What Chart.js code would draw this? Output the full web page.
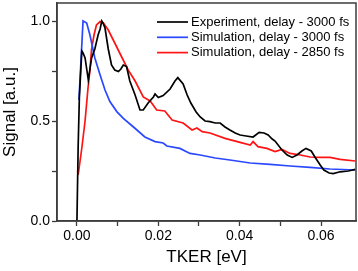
<!DOCTYPE html>
<html>
<head>
<meta charset="utf-8">
<script src="https://cdn.jsdelivr.net/npm/chart.js@4"></script>
<style>
  html, body { margin: 0; padding: 0; background: #fff; }
  #wrap { width: 358px; height: 271px; }
</style>
</head>
<body>
<div id="wrap"><canvas id="myChart"></canvas></div>
<script>
// Dati (TKER in eV, segnale normalizzato)
const expX = [0.0000, 0.0003, 0.0006, 0.0012, 0.0015, 0.0020, 0.0024, 0.0028, 0.0032, 0.0036, 0.0044, 0.0052, 0.0057, 0.0061, 0.0064, 0.0069, 0.0077, 0.0085, 0.0093, 0.0102, 0.0108, 0.0114, 0.0122, 0.0130, 0.0143, 0.0155, 0.0163, 0.0175, 0.0188, 0.0192, 0.0200, 0.0212, 0.0229, 0.0241, 0.0248, 0.0261, 0.0271, 0.0280, 0.0293, 0.0303, 0.0315, 0.0327, 0.0340, 0.0352, 0.0364, 0.0376, 0.0389, 0.0401, 0.0416, 0.0433, 0.0448, 0.0460, 0.0470, 0.0480, 0.0487, 0.0504, 0.0517, 0.0529, 0.0541, 0.0553, 0.0563, 0.0576, 0.0585, 0.0598, 0.0607, 0.0620, 0.0630, 0.0647, 0.0667, 0.0684];
const expY = [0.00, 0.37, 0.62, 0.85, 0.84, 0.815, 0.76, 0.705, 0.76, 0.815, 0.86, 0.93, 0.96, 1.00, 0.99, 0.965, 0.86, 0.78, 0.755, 0.747, 0.76, 0.78, 0.772, 0.70, 0.63, 0.555, 0.555, 0.59, 0.62, 0.635, 0.617, 0.627, 0.66, 0.70, 0.717, 0.685, 0.63, 0.59, 0.545, 0.52, 0.50, 0.497, 0.49, 0.49, 0.47, 0.455, 0.44, 0.43, 0.425, 0.42, 0.443, 0.44, 0.43, 0.41, 0.40, 0.355, 0.33, 0.318, 0.33, 0.35, 0.363, 0.35, 0.32, 0.28, 0.255, 0.24, 0.237, 0.246, 0.25, 0.258];

const sim3000X = [0.0005, 0.0015, 0.0024, 0.0032, 0.0044, 0.0057, 0.0069, 0.0081, 0.0098, 0.0114, 0.0139, 0.0167, 0.0192, 0.0212, 0.0221, 0.0253, 0.0278, 0.0303, 0.0340, 0.0376, 0.0426, 0.0475, 0.0524, 0.0573, 0.0622, 0.0684];
const sim3000Y = [0.605, 1.00, 0.99, 0.93, 0.815, 0.73, 0.655, 0.597, 0.547, 0.513, 0.47, 0.42, 0.397, 0.39, 0.375, 0.363, 0.338, 0.33, 0.315, 0.305, 0.29, 0.283, 0.275, 0.268, 0.26, 0.255];

const sim2850X = [0.0003, 0.0012, 0.0020, 0.0027, 0.0032, 0.0036, 0.0042, 0.0048, 0.0057, 0.0065, 0.0077, 0.0093, 0.0110, 0.0126, 0.0143, 0.0163, 0.0180, 0.0196, 0.0216, 0.0234, 0.0261, 0.0283, 0.0295, 0.0308, 0.0327, 0.0364, 0.0401, 0.0426, 0.0433, 0.0445, 0.0467, 0.0487, 0.0504, 0.0524, 0.0549, 0.0573, 0.0598, 0.0622, 0.0647, 0.0684];
const sim2850Y = [0.23, 0.365, 0.50, 0.66, 0.755, 0.86, 0.93, 0.98, 0.997, 0.99, 0.955, 0.89, 0.82, 0.755, 0.70, 0.62, 0.60, 0.555, 0.55, 0.505, 0.49, 0.455, 0.465, 0.447, 0.44, 0.413, 0.393, 0.38, 0.397, 0.372, 0.363, 0.347, 0.358, 0.338, 0.33, 0.32, 0.318, 0.318, 0.308, 0.30];

const seriesLabels = ['Experiment, delay - 3000 fs', 'Simulation, delay - 3000 fs', 'Simulation, delay - 2850 fs'];

const xTicks = [0, 0.01, 0.02, 0.03, 0.04, 0.05, 0.06];
const yTicks = [0, 0.25, 0.5, 0.75, 1.0];

function toPoints(xs, ys) {
  return xs.map((x, i) => ({ x: x, y: ys[i] }));
}

const axisColor = '#3c3c3c';
const fontFamily = '"Liberation Sans", Arial, sans-serif';

// cornice completa e legenda dentro l'area del grafico
const frameLegend = {
  id: 'frameLegend',
  afterDraw(chart) {
    const { ctx, chartArea: a } = chart;
    ctx.save();
    ctx.strokeStyle = axisColor;
    ctx.lineWidth = 1.5;
    ctx.strokeRect(a.left, a.top, a.right - a.left, a.bottom - a.top);

    ctx.font = '13px ' + fontFamily;
    ctx.textBaseline = 'middle';
    ctx.textAlign = 'left';
    chart.data.datasets.forEach((ds, i) => {
      const y = a.top + 19 + i * 15.3;
      ctx.strokeStyle = ds.borderColor;
      ctx.lineWidth = 1.7;
      ctx.beginPath();
      ctx.moveTo(a.left + 100, y);
      ctx.lineTo(a.left + 131, y);
      ctx.stroke();
      ctx.fillStyle = '#000';
      ctx.fillText(ds.label, a.left + 134, y);
    });
    ctx.restore();
  }
};

const ctx = document.getElementById('myChart').getContext('2d');
const chart = new Chart(ctx, {
  type: 'line',
  data: {
    datasets: [{
      label: seriesLabels[0],
      data: toPoints(expX, expY),
      borderColor: '#000000',
      borderWidth: 1.7
    }, {
      label: seriesLabels[1],
      data: toPoints(sim3000X, sim3000Y),
      borderColor: '#2a48ff',
      borderWidth: 1.7
    }, {
      label: seriesLabels[2],
      data: toPoints(sim2850X, sim2850Y),
      borderColor: '#ff1414',
      borderWidth: 1.7
    }]
  },
  options: {
    responsive: true,
    maintainAspectRatio: false,
    animation: false,
    layout: { padding: { top: 3, right: 2, left: 0, bottom: 0 } },
    elements: { point: { radius: 0 }, line: { tension: 0 } },
    scales: {
      x: {
        type: 'linear',
        min: -0.0049,
        max: 0.0686,
        afterBuildTicks: (scale) => { scale.ticks = xTicks.map(v => ({ value: v })); },
        afterFit: (scale) => {
          scale.height = 50;
          scale.paddingLeft = 0;
          scale.paddingRight = 0;
        },
        grid: { drawOnChartArea: false, drawTicks: true, tickLength: 5, tickColor: axisColor, tickWidth: 1.3 },
        border: { display: true, color: axisColor, width: 1.5 },
        ticks: {
          color: '#000',
          padding: 2,
          maxRotation: 0,
          font: { family: fontFamily, size: 14 },
          callback: (v) => (Math.round(v * 100) % 2 === 0 ? v.toFixed(2) : '')
        },
        title: {
          display: true,
          text: 'TKER [eV]',
          color: '#000',
          font: { family: fontFamily, size: 17 },
          padding: { top: 0, bottom: 3 }
        }
      },
      y: {
        min: 0,
        max: 1.09,
        afterBuildTicks: (scale) => { scale.ticks = yTicks.map(v => ({ value: v })); },
        afterFit: (scale) => {
          scale.width = 57;
          scale.paddingTop = 0;
          scale.paddingBottom = 0;
        },
        grid: { drawOnChartArea: false, drawTicks: true, tickLength: 5, tickColor: axisColor, tickWidth: 1.3 },
        border: { display: true, color: axisColor, width: 1.5 },
        ticks: {
          color: '#000',
          padding: 2,
          font: { family: fontFamily, size: 14 },
          callback: (v) => (Math.round(v * 100) % 50 === 0 ? v.toFixed(1) : '')
        },
        title: {
          display: true,
          text: 'Signal [a.u.]',
          color: '#000',
          font: { family: fontFamily, size: 17 },
          padding: { top: 0, bottom: 0 }
        }
      }
    },
    plugins: {
      legend: { display: false },
      tooltip: { enabled: false }
    }
  },
  plugins: [frameLegend]
});
</script>
</body>
</html>
